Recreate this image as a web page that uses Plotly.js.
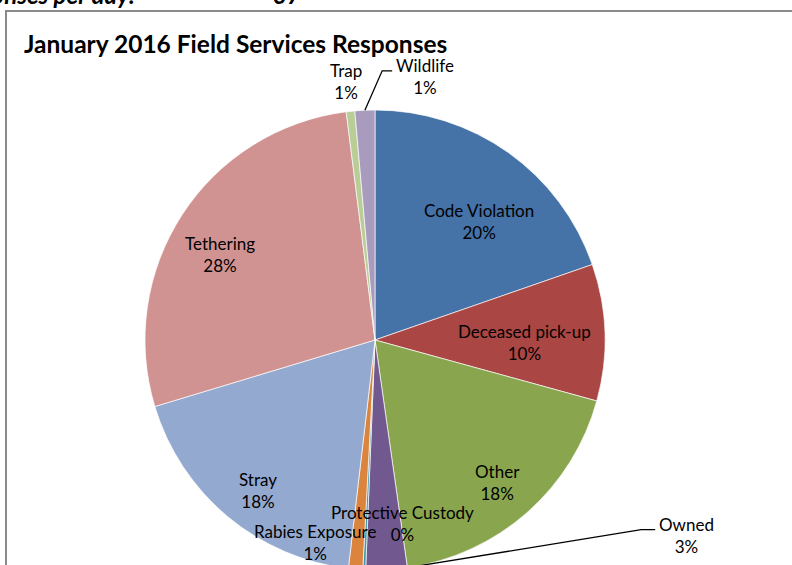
<!DOCTYPE html>
<html><head><meta charset="utf-8">
<script src="https://cdn.plot.ly/plotly-3.0.1.min.js"></script>
<style>html,body{margin:0;padding:0;overflow:hidden;background:#fff;width:792px;height:565px}#chart{width:792px;height:580px}</style>
</head><body><div id="chart"></div><script>
// ---- data ----
const categories = ["Code Violation","Deceased pick-up","Other","Owned","Protective Custody","Rabies Exposure","Stray","Tethering","Trap","Wildlife"];
const responses = [197, 96, 185, 29, 2, 10, 185, 277, 6, 14];
const chartTitle = "January 2016 Field Services Responses";
const headerLeft = "Average responses per day:";
const headerValue = "37";

// ---- styles ----
const colors = ["#4572A7","#AA4643","#89A54E","#71588F","#4198AF","#DB843D","#93A9CF","#D19392","#B9CD96","#A99BBD"];
// label placement: [angle offset from slice middle (deg), radius as fraction of pie radius]
const labelPlacement = [[5.8,.687],[2.8,.652],[0.6,.817],[-55,1.60],[-11.2,.805],[11.5,.919],[-2.1,.830],[-4.1,.770],[-0.3,1.130],[13.3,1.165]];
// leader lines: slice index -> [position within slice (0..1), horizontal run px]
const leaders = {3:[0.05,14], 9:[0.5,10]};

const W=792, H=580, CX=375, CY=340, R=230;
const FONT = "Lato, 'Open Sans', sans-serif";
const LABEL_SIZE = 17;

const total = responses.reduce((a,b)=>a+b,0);
const starts=[], ends=[];
let cum=0;
responses.forEach(v=>{starts.push(cum/total*360); cum+=v; ends.push(cum/total*360);});
const pct = responses.map(v=>Math.round(v/total*100)+'%');
function pt(angleDeg, r){const a=angleDeg*Math.PI/180; return [CX + r*Math.sin(a), CY - r*Math.cos(a)];}
const px = x=>x/W, py = y=>1-y/H;

const canvas=document.createElement('canvas'); const ctx=canvas.getContext('2d');
ctx.font = LABEL_SIZE+"px Lato";

const annotations=[]; const shapes=[];
categories.forEach((c,i)=>{
  const mid=(starts[i]+ends[i])/2;
  const [dAng, rf] = labelPlacement[i];
  const [x,y] = pt(mid+dAng, rf*R);
  annotations.push({xref:'paper',yref:'paper',x:px(x),y:py(y),xanchor:'center',yanchor:'middle',
    text:c+'<br>'+pct[i],showarrow:false,align:'center',font:{family:FONT,size:LABEL_SIZE,color:'#000'}});
  if(leaders[i]){
    const [f,run]=leaders[i];
    const s=pt(starts[i]+f*(ends[i]-starts[i]), R);
    const w=ctx.measureText(c).width;
    const e=[x - w/2 - 4, y - 6];
    const m=[e[0]-run, e[1]];
    shapes.push({type:'path',xref:'paper',yref:'paper',
      path:`M ${px(s[0])},${py(s[1])} L ${px(m[0])},${py(m[1])} L ${px(e[0])},${py(e[1])}`,
      line:{color:'#000',width:1.3}});
  }
});
// chart frame
shapes.push({type:'rect',xref:'paper',yref:'paper',x0:px(6),x1:px(820),y0:py(620),y1:py(11),line:{color:'#8a8a8a',width:2},layer:'below'});
// header text (cropped at the top edge, as in the source)
annotations.push({xref:'paper',yref:'paper',x:px(137),y:py(-6),xanchor:'right',yanchor:'middle',showarrow:false,
  text:'<b><i>'+headerLeft+'</i></b>',font:{family:FONT,size:24,color:'#000'}});
annotations.push({xref:'paper',yref:'paper',x:px(271),y:py(-6),xanchor:'left',yanchor:'middle',showarrow:false,
  text:'<b><i>'+headerValue+'</i></b>',font:{family:FONT,size:24,color:'#000'}});

const trace={type:'pie',labels:categories,values:responses,sort:false,direction:'clockwise',rotation:0,
  marker:{colors:colors,line:{color:'rgba(255,255,255,0.85)',width:0.8}},
  textinfo:'none',hoverinfo:'label+percent',showlegend:false,
  domain:{x:[px(CX-R),px(CX+R)],y:[py(CY+R),py(CY-R)]}};

const layout={width:W,height:H,margin:{l:0,r:0,t:0,b:0},paper_bgcolor:'#fff',showlegend:false,
  title:{text:'<b>'+chartTitle+'</b>',xref:'paper',yref:'paper',x:px(24),xanchor:'left',y:py(44),yanchor:'middle',
    font:{family:FONT,size:24.5,color:'#000'}},
  annotations:annotations,shapes:shapes};
Plotly.newPlot('chart',[trace],layout,{staticPlot:true,displayModeBar:false});
</script></body></html>
